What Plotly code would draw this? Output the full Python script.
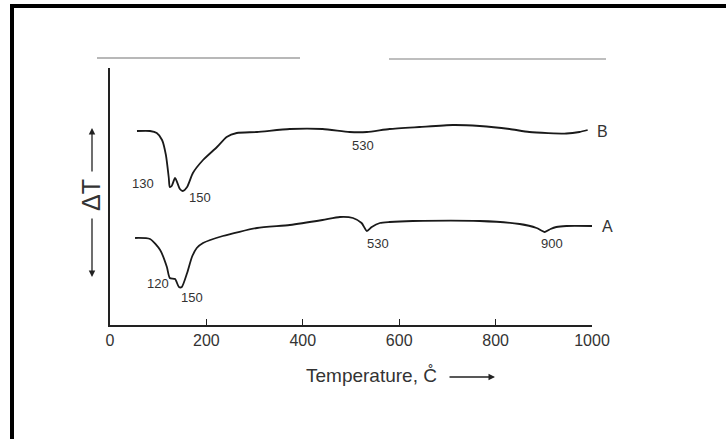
import plotly.graph_objects as go

# Curve B (upper DTA trace): temperature (deg C) and relative Delta-T (arbitrary units)
temp_B = [56, 83, 97, 108, 116, 122, 124, 128, 135, 145, 151, 160, 172, 193, 222, 242, 263,
          305, 373, 441, 497, 533, 580, 642, 711, 767, 829, 870, 947, 974, 991]
dT_B = [194, 194, 192, 185, 170, 147, 138, 139, 147, 136, 134, 138, 152, 165, 178, 188, 192,
        193, 196, 196, 193, 193, 196, 198, 200, 199, 196, 193, 191.5, 193, 195]

# Curve A (lower DTA trace)
temp_A = [52, 83, 104, 118, 124, 135, 143, 149, 160, 170, 180, 193, 234, 305, 373, 441, 477,
          504, 522, 533, 543, 560, 580, 628, 767, 850, 885, 902, 914, 926, 947, 1000]
dT_A = [87, 86, 75, 58, 47, 46, 38, 38, 52, 68, 77, 82, 89, 97, 100, 105, 108,
        107, 102, 94, 98, 102, 103, 104, 104, 101, 97, 93, 96, 98, 99, 99]

# Peak labels: text, x (deg C), y (arb.)
peak_text = ["130", "150", "530", "120", "150", "530", "900"]
peak_x = [68, 187, 524, 99, 170, 555, 918]
peak_y = [142, 128, 180, 42, 28, 82, 82]

curve_names = ["B", "A"]
curve_label_x = [1022, 1032]
curve_label_y = [194, 99]

tick_vals = [0, 200, 400, 600, 800, 1000]
tick_text = ["0", "200", "400", "600", "800", "1000"]

X_MAX = 1000.0
Y_MAX = 257.0

FONT = "Liberation Sans, Arial, sans-serif"
INK = "#1a1a1a"
TXT = "#333"

fig = go.Figure()
fig.add_trace(go.Scatter(x=temp_B, y=dT_B, mode="lines",
                         line=dict(color=INK, width=1.8, shape="spline", smoothing=0.6),
                         hoverinfo="skip", showlegend=False))
fig.add_trace(go.Scatter(x=temp_A, y=dT_A, mode="lines",
                         line=dict(color=INK, width=1.8, shape="spline", smoothing=0.6),
                         hoverinfo="skip", showlegend=False))

C = dict(xanchor="center", yanchor="middle")

annotations = []
for t, x, y in zip(peak_text, peak_x, peak_y):
    annotations.append(dict(x=x, y=y, xref="x", yref="y", text=t, showarrow=False,
                            font=dict(family=FONT, size=13, color=TXT), **C))
for t, x, y in zip(curve_names, curve_label_x, curve_label_y):
    annotations.append(dict(x=x / X_MAX, y=y / Y_MAX, xref="paper", yref="paper", text=t,
                            showarrow=False, font=dict(family=FONT, size=16, color=TXT), **C))

# pixel -> paper helpers (plot area spans px 110..592 horizontally, 68..325 vertically)
px = lambda p: (p - 110) / 482.0
py = lambda p: (325 - p) / 257.0

# x-axis title with arrow
annotations.append(dict(x=px(371), y=py(375), xref="paper", yref="paper",
                        text="Temperature, C\u030a", showarrow=False,
                        font=dict(family=FONT, size=19, color=TXT), **C))
annotations.append(dict(x=px(495), y=py(377), xref="paper", yref="paper", text="",
                        showarrow=True, ax=-47, ay=0, arrowhead=2, arrowsize=1,
                        arrowwidth=1.3, arrowcolor="#222", **C))

# y-axis label Delta T with arrows
annotations.append(dict(x=px(91), y=py(195), xref="paper", yref="paper", text="\u0394T",
                        textangle=-90, showarrow=False,
                        font=dict(family=FONT, size=25, color=TXT), **C))
annotations.append(dict(x=px(92), y=py(128), xref="paper", yref="paper", text="",
                        showarrow=True, ax=0, ay=45, arrowhead=2, arrowsize=1,
                        arrowwidth=1.3, arrowcolor="#222", **C))
annotations.append(dict(x=px(92), y=py(277), xref="paper", yref="paper", text="",
                        showarrow=True, ax=0, ay=-60, arrowhead=2, arrowsize=1,
                        arrowwidth=1.3, arrowcolor="#222", **C))

# frame pieces from the scanned page (thick black top/left border, faint grey top rules)
shapes = [
    dict(type="rect", xref="paper", yref="paper", x0=px(10), x1=px(726),
         y0=py(8), y1=py(4), fillcolor="black", line=dict(width=0)),
    dict(type="rect", xref="paper", yref="paper", x0=px(10), x1=px(14),
         y0=py(439), y1=py(4), fillcolor="black", line=dict(width=0)),
    dict(type="line", xref="paper", yref="paper", x0=px(97), x1=px(300),
         y0=py(58), y1=py(58), line=dict(color="#a0a0a0", width=1.5)),
    dict(type="line", xref="paper", yref="paper", x0=px(389), x1=px(606),
         y0=py(59), y1=py(59), line=dict(color="#a8a8a8", width=1.5)),
]

fig.update_layout(
    width=726, height=439,
    margin=dict(l=110, r=134, t=68, b=114),
    paper_bgcolor="white", plot_bgcolor="white",
    annotations=annotations, shapes=shapes,
    xaxis=dict(range=[0, X_MAX], tickvals=tick_vals, ticktext=tick_text,
               ticks="inside", ticklen=6, tickwidth=1.3, tickcolor="#222",
               showline=True, linecolor="#222", linewidth=1.5,
               showgrid=False, zeroline=False,
               tickfont=dict(family=FONT, size=16, color=TXT)),
    yaxis=dict(range=[0, Y_MAX], showticklabels=False, ticks="",
               showline=True, linecolor="#222", linewidth=1.5,
               showgrid=False, zeroline=False),
)

fig.write_html("out.html", config={"displayModeBar": False},
               post_script="document.body.style.margin='0px';")
